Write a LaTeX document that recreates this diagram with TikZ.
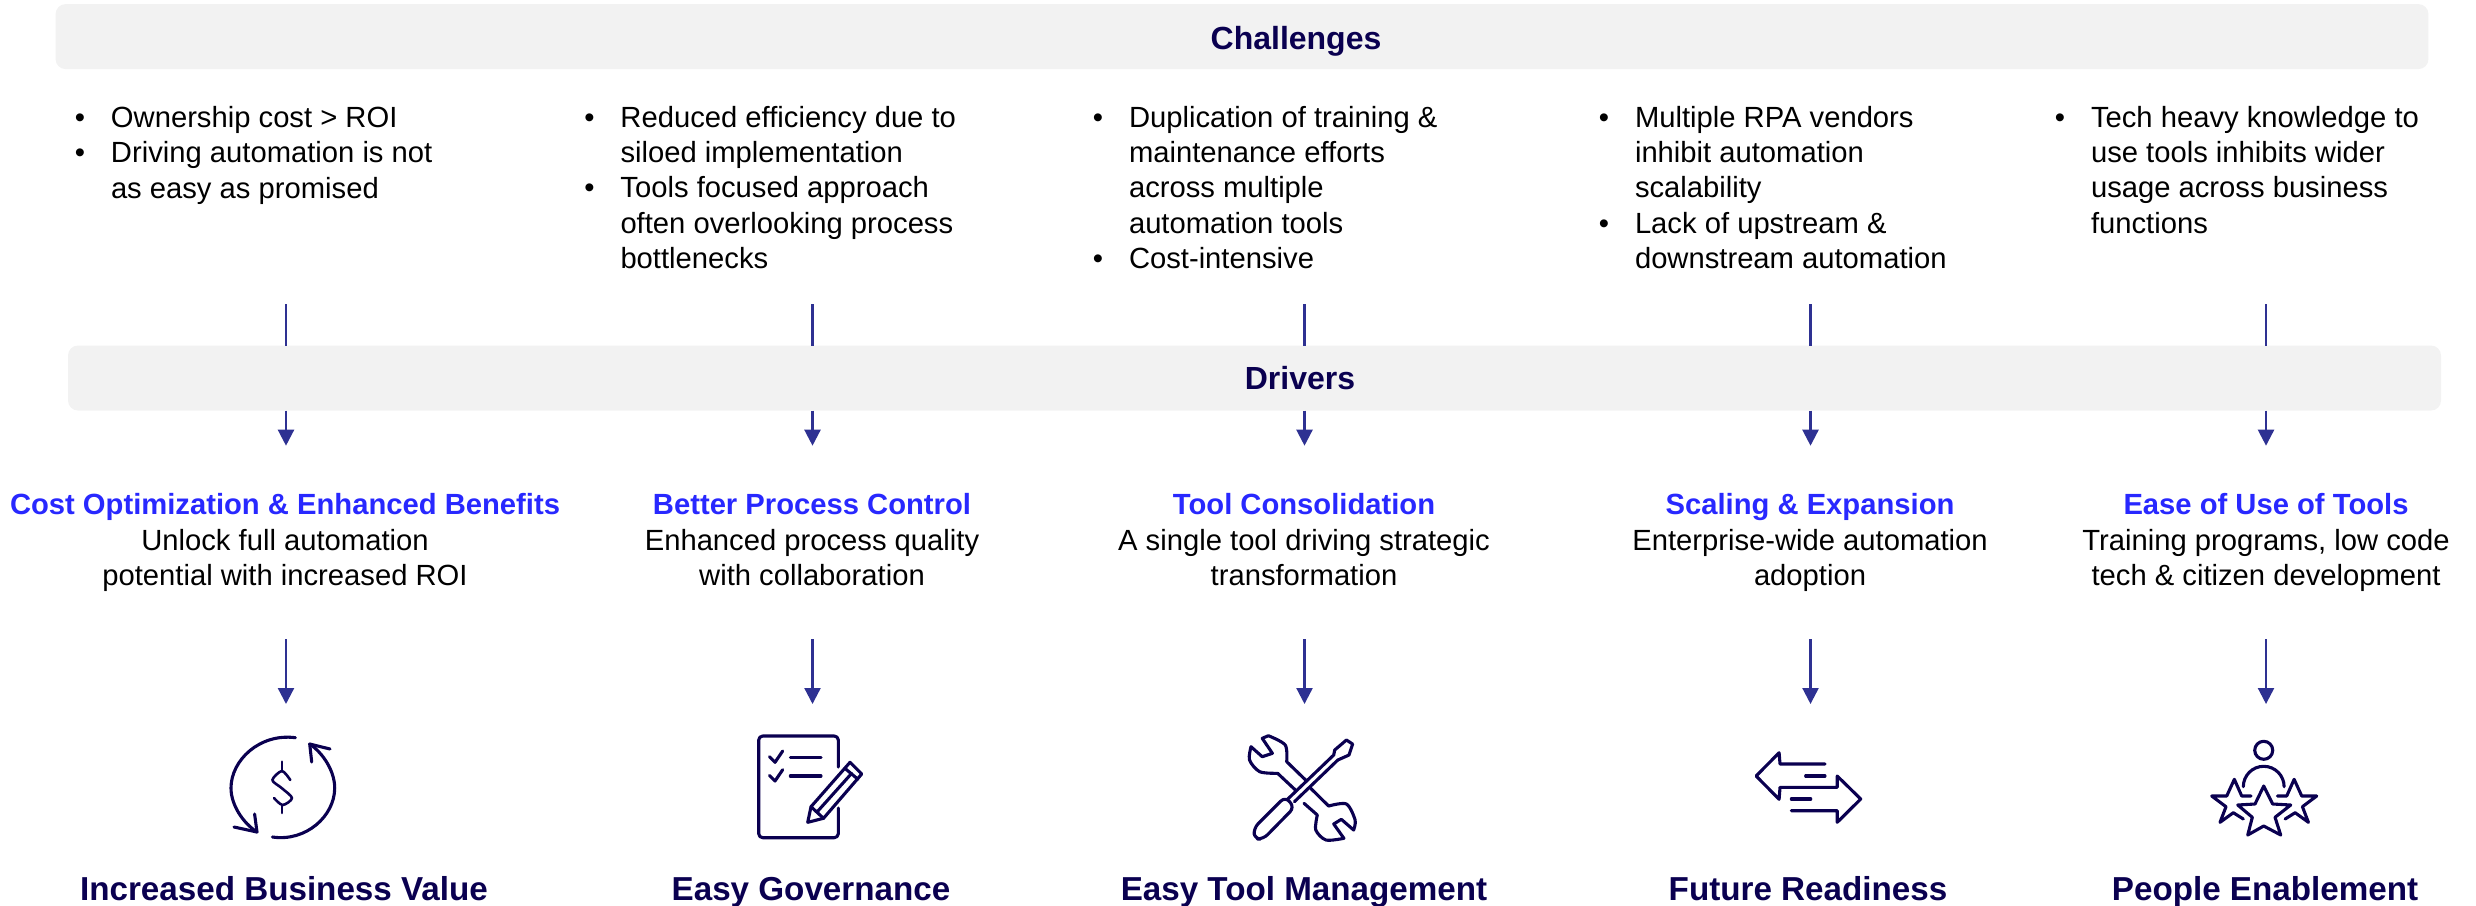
\documentclass[tikz,border=0pt]{standalone}
\usepackage{fontspec}
\usepackage{xcolor}
\setmainfont{Liberation Sans}
\usetikzlibrary{arrows.meta,positioning}
\definecolor{navy}{RGB}{10,0,80}
\definecolor{linkblue}{RGB}{46,49,146}
\definecolor{titleblue}{RGB}{40,40,255}
\definecolor{barfill}{RGB}{242,242,242}
\newcommand{\bul}{\llap{\textbullet\hspace{13pt}}}
\newcommand{\drvtitle}[1]{{\bfseries\color{titleblue}#1}}
\tikzset{
  x=0.5pt, y=0.5pt,
  all/.style  = {inner sep=0pt, outer sep=0pt},
  bar/.style  = {all, fill=barfill, rounded corners=5pt, minimum height=32.5pt},
  heading/.style = {all, font=\fontsize{16}{19}\selectfont\bfseries, text=navy},
  outcome/.style = {all, anchor=base, font=\fontsize{16.6}{19}\selectfont\bfseries, text=navy},
  blocker/.style = {all, anchor=base west, align=left, font=\fontsize{14.6}{17.65}\selectfont},
  driver/.style  = {all, anchor=base, align=center, font=\fontsize{14.6}{17.65}\selectfont},
  link/.style = {draw=linkblue, line width=1.15pt},
  linkhead/.style = {link, -{Triangle[length=8pt,width=8pt,fill=linkblue]}},
  icon/.style = {draw=navy, line width=1.55pt, line join=round, line cap=round}
}
\begin{document}
\begin{tikzpicture}
\useasboundingbox (0,0) rectangle (2476,-905);
% the two grey bars
\node[bar, minimum width=1186.4pt] (challengesbar) at (1242,-36.6) {};
\node[bar, minimum width=1186.5pt] (driversbar) at (1254.5,-378) {};
\node[heading] (challenges) at (1296,-41) {Challenges};
\node[heading] (drivers) at (1300,-378) {Drivers};

% challenges, one list for each column, placed by their last line
\node[blocker] (blocker1) at (111,-198) {\bul Ownership cost > ROI\\\bul Driving automation is not\\as easy as promised};
\node[blocker] (blocker2) at (620.5,-268.4) {\bul Reduced efficiency due to\\siloed implementation\\\bul Tools focused approach\\often overlooking process\\bottlenecks};
\node[blocker] (blocker3) at (1129,-268.4) {\bul Duplication of training \&\\maintenance efforts\\across multiple\\automation tools\\\bul Cost-intensive};
\node[blocker] (blocker4) at (1635,-268.4) {\bul Multiple RPA vendors\\inhibit automation\\scalability\\\bul Lack of upstream \&\\downstream automation};
\node[blocker] (blocker5) at (2091,-233) {\bul Tech heavy knowledge to\\use tools inhibits wider\\usage across business\\functions};

% drivers under the bar
\node[driver] (driver1) at (285,-585.5) {\drvtitle{Cost Optimization \& Enhanced Benefits}\\Unlock full automation\\potential with increased ROI};
\node[driver] (driver2) at (812,-585.5) {\drvtitle{Better Process Control}\\Enhanced process quality\\with collaboration};
\node[driver] (driver3) at (1304,-585.5) {\drvtitle{Tool Consolidation}\\A single tool driving strategic\\transformation};
\node[driver] (driver4) at (1810,-585.5) {\drvtitle{Scaling \& Expansion}\\Enterprise-wide automation\\adoption};
\node[driver] (driver5) at (2266,-585.5) {\drvtitle{Ease of Use of Tools}\\Training programs, low code\\tech \& citizen development};

% outcomes at the bottom
\node[outcome] (outcome1) at (284,-900.5) {Increased Business Value};
\node[outcome] (outcome2) at (811,-900.5) {Easy Governance};
\node[outcome] (outcome3) at (1304,-900.5) {Easy Tool Management};
\node[outcome] (outcome4) at (1808,-900.5) {Future Readiness};
\node[outcome] (outcome5) at (2265,-900.5) {People Enablement};

% free ends of the connectors
\coordinate (top1) at (286,-304);
\coordinate (top2) at (812.5,-304);
\coordinate (top3) at (1304.5,-304);
\coordinate (top4) at (1810.5,-304);
\coordinate (top5) at (2266,-304);
\coordinate (in1) at (286,-445.7);
\coordinate (in2) at (812.5,-445.7);
\coordinate (in3) at (1304.5,-445.7);
\coordinate (in4) at (1810.5,-445.7);
\coordinate (in5) at (2266,-445.7);
\coordinate (low1) at (286,-639);
\coordinate (low2) at (812.5,-639);
\coordinate (low3) at (1304.5,-639);
\coordinate (low4) at (1810.5,-639);
\coordinate (low5) at (2266,-639);
\coordinate (tip1) at (286,-704);
\coordinate (tip2) at (812.5,-704);
\coordinate (tip3) at (1304.5,-704);
\coordinate (tip4) at (1810.5,-704);
\coordinate (tip5) at (2266,-704);

\draw[link] (top1) -- (top1 |- driversbar.north);
\draw[link] (top2) -- (top2 |- driversbar.north);
\draw[link] (top3) -- (top3 |- driversbar.north);
\draw[link] (top4) -- (top4 |- driversbar.north);
\draw[link] (top5) -- (top5 |- driversbar.north);
\draw[linkhead] (in1 |- driversbar.south) -- (in1);
\draw[linkhead] (in2 |- driversbar.south) -- (in2);
\draw[linkhead] (in3 |- driversbar.south) -- (in3);
\draw[linkhead] (in4 |- driversbar.south) -- (in4);
\draw[linkhead] (in5 |- driversbar.south) -- (in5);
\draw[linkhead] (low1) -- (tip1);
\draw[linkhead] (low2) -- (tip2);
\draw[linkhead] (low3) -- (tip3);
\draw[linkhead] (low4) -- (tip4);
\draw[linkhead] (low5) -- (tip5);

% icon: dollar with two turning arrows
\draw[icon] (295.4,-737.7) .. controls (260,-733) and (231,-760) .. (231,-788) .. controls (231,-805) and (243,-823) .. (257,-832);
\draw[icon] (254.6,-814) -- (257,-832) -- (234,-827);
\draw[icon] (272.4,-837) .. controls (306,-842) and (334.7,-816) .. (334.7,-788) .. controls (334.7,-771) and (323,-753) .. (309.7,-744);
\draw[icon] (311.7,-762) -- (309.7,-744) -- (330,-749);
\draw[icon, line width=1.3pt] plot[smooth] coordinates {(290.3,-780) (282,-771) (272.4,-780) (281.6,-788) (292,-798) (282.6,-805) (274,-798)};
\draw[icon, line width=1.3pt] (282,-761.7) -- (282,-771);
\draw[icon, line width=1.3pt] (282,-805) -- (282,-813);

% icon: checklist and pencil
\draw[icon, rounded corners=2pt] (838.3,-767) -- (838.3,-736) -- (758.7,-736) -- (758.7,-837.7) -- (838.3,-837.7) -- (838.3,-808);
\draw[icon] (769.4,-756.7) -- (775,-762.3) -- (782.7,-751);
\draw[icon] (769.4,-775.4) -- (775,-781) -- (782.7,-769.7);
\draw[icon] (790.3,-757.3) -- (821,-757.3);
\draw[icon] (790.3,-776) -- (821,-776);
\draw[icon] (807.7,-822.3) -- (811,-806.7) -- (850,-762.3) -- (861.7,-774) -- (823.5,-818.3) -- cycle;
\draw[icon] (811,-806.7) -- (823.5,-818.3);
\draw[icon] (844.9,-768.3) -- (858,-779.3);
\draw[icon] (817,-812) -- (851.5,-773.5);

% icon: wrench and screwdriver
\draw[icon] (1305.6,-780) -- (1286.7,-761.7) -- plot[smooth] coordinates {(1286.7,-761.7) (1285.2,-745) (1268.4,-735.7)} -- (1262.2,-738.3) -- (1272.4,-753.3) -- (1262.2,-756.7) -- (1251,-746.7) -- plot[smooth] coordinates {(1251,-746.7) (1249.5,-760) (1259.7,-771.7) (1277.6,-773.3)} -- (1295.4,-790);
\draw[icon] (1310.7,-788.3) -- (1328.6,-806) -- plot[smooth] coordinates {(1328.6,-806) (1346.4,-804) (1355.1,-820) (1353.6,-830)} -- (1341.3,-819.3) -- (1333.7,-824) -- (1343.9,-838.3) -- plot[smooth] coordinates {(1343.9,-838.3) (1326,-840) (1315.8,-830) (1317.3,-815)} -- (1304,-803.3);
\draw[icon] (1287.8,-799) -- (1333.7,-755) -- (1334.7,-750) -- (1346.4,-740) -- (1352.6,-744) -- (1349,-755) -- (1337.8,-760) -- (1294.4,-801.7);
\draw[icon, rounded corners=3pt] (1285.2,-796.7) -- (1253.6,-828.3) -- (1254.6,-839) -- (1263.3,-839) -- (1294.4,-807.3) -- cycle;

% icon: two opposite arrows
\draw[icon] (1825,-764) -- (1780,-764) -- (1779.1,-752.7) -- (1756.1,-776) -- (1779.1,-799.3) -- (1780,-787.3) -- (1837.2,-787.3) -- (1837.2,-776) -- (1860.7,-799) -- (1837.2,-822.3) -- (1837.2,-810.7) -- (1791.3,-810.7);
\draw[icon] (1805.6,-776) -- (1825,-776);
\draw[icon] (1791.3,-799) -- (1810.7,-799);

% icon: person with three stars
\draw[icon] (2263.7,-750.3) circle (9);
\draw[icon] (2243.3,-786.7) arc[start angle=180, end angle=0, radius=20.4];
\draw[icon] (2263.7,-786) -- (2272.7,-804) -- (2290.7,-805) -- (2275,-817.3) -- (2280.7,-835) -- (2263.7,-826) -- (2247.7,-835) -- (2252.3,-817.3) -- (2237.7,-805) -- (2255,-804) -- cycle;
\draw[icon] (2251,-796) -- (2241.7,-796) -- (2234.3,-779.3) -- (2226.7,-796) -- (2211.7,-796) -- (2226,-806.7) -- (2220,-822.3) -- (2233.3,-812.7) -- (2243.3,-819);
\draw[icon] (2277.4,-796) -- (2286.7,-796) -- (2294.1,-779.3) -- (2301.7,-796) -- (2316.7,-796) -- (2302.4,-806.7) -- (2308.4,-822.3) -- (2295.1,-812.7) -- (2285.1,-819);
\end{tikzpicture}
\end{document}
